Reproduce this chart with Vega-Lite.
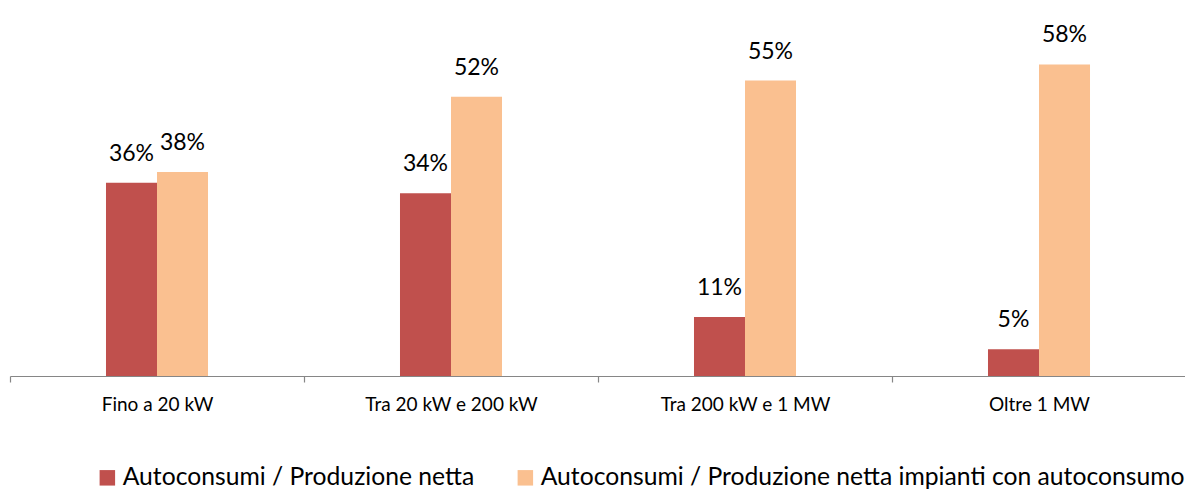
{
  "$schema": "https://vega.github.io/schema/vega-lite/v6.json",
  "width": 1176,
  "height": 376,
  "padding": {"left": 10, "top": 0, "right": 0, "bottom": 113},
  "autosize": {"type": "none"},
  "background": "white",
  "config": {"view": {"stroke": null}, "font": "Lato"},
  "data": {
    "values": [
      {"fascia": "Fino a 20 kW", "serie": "Autoconsumi / Produzione netta", "valore": 0.36},
      {"fascia": "Fino a 20 kW", "serie": "Autoconsumi / Produzione netta impianti con autoconsumo", "valore": 0.38},
      {"fascia": "Tra 20 kW e 200 kW", "serie": "Autoconsumi / Produzione netta", "valore": 0.34},
      {"fascia": "Tra 20 kW e 200 kW", "serie": "Autoconsumi / Produzione netta impianti con autoconsumo", "valore": 0.52},
      {"fascia": "Tra 200 kW e 1 MW", "serie": "Autoconsumi / Produzione netta", "valore": 0.11},
      {"fascia": "Tra 200 kW e 1 MW", "serie": "Autoconsumi / Produzione netta impianti con autoconsumo", "valore": 0.55},
      {"fascia": "Oltre 1 MW", "serie": "Autoconsumi / Produzione netta", "valore": 0.05},
      {"fascia": "Oltre 1 MW", "serie": "Autoconsumi / Produzione netta impianti con autoconsumo", "valore": 0.58}
    ]
  },
  "layer": [
    {
      "encoding": {
        "x": {
          "field": "fascia",
          "type": "nominal",
          "sort": ["Fino a 20 kW", "Tra 20 kW e 200 kW", "Tra 200 kW e 1 MW", "Oltre 1 MW"],
          "scale": {"paddingInner": 0.653, "paddingOuter": 0.3265},
          "axis": null
        },
        "xOffset": {
          "field": "serie",
          "type": "nominal",
          "sort": ["Autoconsumi / Produzione netta", "Autoconsumi / Produzione netta impianti con autoconsumo"],
          "scale": {"paddingInner": 0, "paddingOuter": 0}
        },
        "y": {
          "field": "valore",
          "type": "quantitative",
          "scale": {"domain": [0, 0.7]},
          "axis": null
        }
      },
      "layer": [
        {
          "mark": {"type": "bar"},
          "encoding": {
            "color": {
              "field": "serie",
              "type": "nominal",
              "scale": {
                "domain": ["Autoconsumi / Produzione netta", "Autoconsumi / Produzione netta impianti con autoconsumo"],
                "range": ["#C0504D", "#FAC090"]
              },
              "legend": {
                "orient": "none",
                "legendX": 85,
                "legendY": 465,
                "direction": "horizontal",
                "title": null,
                "symbolType": "square",
                "symbolSize": 240,
                "symbolStrokeWidth": 0,
                "labelFontSize": 24.7,
                "labelColor": "#000000",
                "labelOffset": 3,
                "columnPadding": 38,
                "labelLimit": 900
              }
            }
          }
        },
        {
          "mark": {"type": "text", "baseline": "alphabetic", "dy": -22, "fontSize": 23, "color": "#000000"},
          "encoding": {
            "text": {"field": "valore", "type": "quantitative", "format": ".0%"}
          }
        }
      ]
    },
    {
      "mark": {"type": "bar", "opacity": 0},
      "encoding": {
        "x": {
          "field": "fascia",
          "type": "nominal",
          "sort": ["Fino a 20 kW", "Tra 20 kW e 200 kW", "Tra 200 kW e 1 MW", "Oltre 1 MW"],
          "scale": {"paddingInner": 0, "paddingOuter": 0},
          "axis": {
            "orient": "bottom",
            "title": null,
            "labelAngle": 0,
            "domainColor": "#868686",
            "domainWidth": 1.2,
            "tickColor": "#868686",
            "tickWidth": 1.2,
            "tickBand": "extent",
            "tickSize": 6,
            "labelFontSize": 19,
            "labelPadding": 13,
            "labelColor": "#000000"
          }
        },
        "y": {"field": "valore", "type": "quantitative"}
      }
    }
  ],
  "resolve": {"scale": {"x": "independent"}}
}
